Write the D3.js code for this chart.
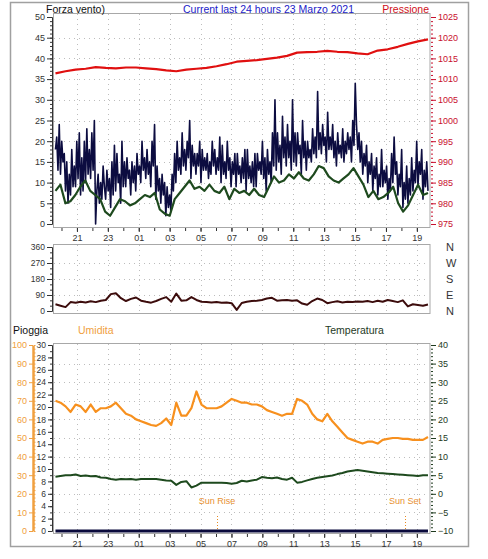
<!DOCTYPE html>
<html><head><meta charset="utf-8">
<script src="https://cdn.jsdelivr.net/npm/d3@7"></script>
<style>body{margin:0;background:#fff}svg{display:block;font-family:"Liberation Sans",Arial,sans-serif}</style>
</head><body><svg id="c" width="488" height="559"></svg>
<script>
// ---- data ----
const hourTicks = [21,23,25,27,29,31,33,35,37,39,41,43];
const hourLabels = ["21","23","01","03","05","07","09","11","13","15","17","19"];
const tStart = 19.61, tEnd = 43.72;
const sunRise = 30.07, sunSet = 42.23;
const windGust = [
  18,21,13,24,12,20,15,17, 8,15,5,12,7,18,9,14, 9,20,11,22,7,16,8,20, 10,23,12,18,11,22,13,25,
  0,8,12,5,10,6,14,9, 6,13,8,11,4,15,7,19, 8,17,10,12,5,20,9,15, 9,16,11,13,7,15,10,14,
  8,17,12,14,10,20,13,16, 11,18,12,15,9,20,14,24, 6,14,8,11,5,12,7,10, 2,9,4,7,3,12,8,17,
  10,20,13,16,12,22,14,18, 13,20,16,25,11,19,14,17, 12,17,14,20,10,18,13,16, 13,17,11,15,12,20,14,18,
  12,16,13,21,10,19,12,15, 11,20,13,16,9,15,12,17, 9,17,12,14,10,16,11,18, 8,18,11,14,10,15,9,17,
  9,17,13,15,12,20,11,16, 8,18,12,15,10,22,14,30, 13,22,15,19,12,26,16,21, 14,24,16,20,13,30,15,22,
  14,22,17,19,12,25,16,20, 13,20,16,18,15,23,17,21, 16,32,18,22,17,24,19,21, 15,27,18,21,18,24,16,20,
  14,22,17,19,16,23,15,20, 17,22,18,21,15,25,19,34, 24,18,22,15,20,12,17,14, 19,10,15,12,17,8,14,11,
  16,7,12,9,18,9,13,10, 14,6,11,8,17,10,21,12, 15,7,12,9,18,4,10,6, 14,5,11,7,16,8,13,10,
  20,9,15,12,18,6,13,9, 15,8];
const windAvg = [8,9.5,5,5.5,7,9,10.5,8,7,6,3,2,4,6,5.5,4.5,5,6,7,6.5,7.5,3.5,2.5,2,6,7.5,9,10.5,8.5,9,
  8,9.5,8,7.5,9,6,8.5,7.5,8,7,8.5,7,6.5,9,11.5,10,10.5,12,11,12.5,11,10.5,12,14,13.5,11.5,10.5,10,11,12,
  13.5,11.5,9.5,6.5,8,6,6.5,7.5,9,5,3,4.5,7,9.5,7,7.5];
const pressure = [1011.4,1011.9,1012.3,1012.5,1012.9,1012.7,1012.6,1012.8,1012.8,1012.6,1012.4,1012.1,1011.9,
  1012.3,1012.5,1012.7,1013.1,1013.6,1014.2,1014.4,1014.6,1014.9,1015.2,1015.6,1016.4,1016.5,1016.6,1016.8,
  1016.6,1016.5,1016.2,1016.0,1016.9,1017.2,1017.8,1018.5,1019.1,1019.6];
const windDir = [38,30,22,50,46,52,48,55,50,58,62,95,100,72,56,68,76,58,52,47,56,68,78,52,98,58,60,78,62,52,
  50,48,50,46,48,44,6,45,52,56,58,62,70,74,58,60,62,58,60,42,35,56,70,62,44,50,55,48,52,50,
  54,52,56,50,58,52,62,56,50,60,26,38,34,30,36];
const humidity = [70,69,67,64,68,67,64,68,64,66,66,67,69,66,63,62,60,59,58,57,56.5,58,60.5,57,69,62,62,66,75,68,
  66,66,66,67,69,71,70,69,69,68,68,67,65,64,63,62,63,63,71,70,68,63,60,59,63,59,56,53,50,49,
  48,47,48,48,47,49,49.5,50,50,49.5,49.5,49,49,49,50.5];
const temperature = [4.6,4.8,5.0,5.0,5.2,4.8,4.9,4.7,4.8,4.4,4.3,4.0,3.8,4.0,3.9,4.0,3.8,4.0,4.0,4.0,4.0,3.8,3.6,3.5,2.4,
  3.2,3.4,1.7,2.2,3.0,3.0,3.0,3.0,3.0,2.9,2.7,2.9,3.5,3.3,3.6,3.8,4.5,4.3,4.2,4.4,4.0,3.8,4.3,3.0,3.2,
  3.6,4.0,4.3,4.5,4.7,4.9,5.3,5.6,6.0,6.2,6.4,6.2,6.0,5.8,5.6,5.5,5.4,5.3,5.2,5.1,5.0,4.9,4.8,5.0,5.0];
const rain = [0,0,0,0,0,0,0,0,0,0,0,0,0,0,0,0,0,0,0,0,0,0,0,0,0];
const dirLabels = ["N","W","S","E","N"];
const dirLabelValues = [360,270,180,90,0];

// ---- drawing ----
const svg = d3.select("#c");
const x = d3.scaleLinear().domain([19.45,43.85]).range([53,430]);
const ySpeed = d3.scaleLinear().domain([0,50]).range([224,17]);
const yPress = d3.scaleLinear().domain([975,1025]).range([224,17]);
const yDir = d3.scaleLinear().domain([0,360]).range([311,247]);
const yRain = d3.scaleLinear().domain([0,30]).range([531,345]);
const yHum = d3.scaleLinear().domain([0,100]).range([531,345]);
const yTemp = d3.scaleLinear().domain([-10,40]).range([531,345]);

const withTime = arr => arr.map((v,i)=>({t: tStart + i*(tEnd-tStart)/(arr.length-1), v}));

// outer frame
svg.append("rect").attr("x",10.5).attr("y",2.5).attr("width",458).attr("height",544)
  .attr("fill","none").attr("stroke","#a0a0a0").attr("stroke-width",1.5);

const panels = [{y0:13,y1:227},{y0:244,y1:313},{y0:343,y1:533}];
panels.forEach(p=>{
  svg.append("rect").attr("x",53.5).attr("y",p.y0+0.5).attr("width",376.5).attr("height",p.y1-p.y0)
    .attr("fill","#fff").attr("stroke","#a8a8a8").attr("stroke-width",1);
});

function grid(hVals, yScale, p){
  const g = svg.append("g").attr("stroke","#bdbdbd").attr("stroke-dasharray","1,4").attr("stroke-width",1);
  hVals.forEach(v=>g.append("line").attr("x1",54).attr("x2",429).attr("y1",Math.round(yScale(v))+0.5).attr("y2",Math.round(yScale(v))+0.5));
  hourTicks.forEach(h=>g.append("line").attr("x1",Math.round(x(h))+0.5).attr("x2",Math.round(x(h))+0.5).attr("y1",p.y0+1).attr("y2",p.y1));
}
grid(d3.range(5,50,5), ySpeed, panels[0]);
grid([90,180,270], yDir, panels[1]);
grid(d3.range(10,100,10), yHum, panels[2]);

function styleAxis(g, color, fontSize){
  g.select(".domain").attr("stroke",color);
  g.selectAll(".tick line").attr("stroke",color);
  g.selectAll(".tick text").attr("fill",color).style("font-size",fontSize+"px").style("font-family","'Liberation Sans',Arial,sans-serif");
}
const fmt = d3.format("d");

// panel 1 axes
let g = svg.append("g").attr("transform","translate(52,0)")
  .call(d3.axisLeft(ySpeed).tickValues(d3.range(0,51,5)).tickSize(5).tickPadding(2).tickSizeOuter(0));
styleAxis(g,"#333",9);
g = svg.append("g").attr("transform","translate(52,0)")
  .call(d3.axisLeft(ySpeed).tickValues(d3.range(0,51,1)).tickSize(2).tickFormat("").tickSizeOuter(0));
styleAxis(g,"#333",9);
g = svg.append("g").attr("transform","translate(431,0)")
  .call(d3.axisRight(yPress).tickValues(d3.range(975,1026,5)).tickFormat(fmt).tickSize(5).tickPadding(2).tickSizeOuter(0));
styleAxis(g,"#c8102e",9); g.select(".domain").remove();
g = svg.append("g").attr("transform","translate(431,0)")
  .call(d3.axisRight(yPress).tickValues(d3.range(975,1026,1)).tickSize(2).tickFormat("").tickSizeOuter(0));
styleAxis(g,"#c8102e",9); g.select(".domain").remove();

function xAxis(y){
  let a = svg.append("g").attr("transform",`translate(0,${y})`)
    .call(d3.axisBottom(x).tickValues(hourTicks).tickFormat((d,i)=>hourLabels[i]).tickSize(4).tickPadding(3).tickSizeOuter(0));
  styleAxis(a,"#333",9); a.select(".domain").remove();
  a = svg.append("g").attr("transform",`translate(0,${y})`)
    .call(d3.axisBottom(x).tickValues(d3.range(20,44,1)).tickSize(3).tickFormat("").tickSizeOuter(0));
  styleAxis(a,"#333",9); a.select(".domain").remove();
}
xAxis(228);
xAxis(534);

// panel 2 axes
g = svg.append("g").attr("transform","translate(52,0)")
  .call(d3.axisLeft(yDir).tickValues([0,90,180,270,360]).tickSize(5).tickPadding(2).tickSizeOuter(0));
styleAxis(g,"#333",8.5);
g = svg.append("g").attr("transform","translate(52,0)")
  .call(d3.axisLeft(yDir).tickValues(d3.range(0,361,30)).tickSize(2).tickFormat("").tickSizeOuter(0));
styleAxis(g,"#333",9);
svg.append("g").selectAll("text").data(dirLabelValues).join("text")
  .attr("x",446).attr("y",d=>yDir(d)+4).text((d,i)=>dirLabels[i])
  .attr("fill","#333").style("font-size","11px");

// panel 3 axes
g = svg.append("g").attr("transform","translate(52,0)")
  .call(d3.axisLeft(yRain).tickValues(d3.range(0,31,2)).tickSize(4).tickPadding(2).tickSizeOuter(0));
styleAxis(g,"#333",8.5);
g = svg.append("g").attr("transform","translate(52,0)")
  .call(d3.axisLeft(yRain).tickValues(d3.range(0,31,1)).tickSize(2).tickFormat("").tickSizeOuter(0));
styleAxis(g,"#333",9);
g = svg.append("g").attr("transform","translate(33,0)")
  .call(d3.axisLeft(yHum).tickValues(d3.range(0,101,10)).tickSize(4).tickPadding(2).tickSizeOuter(0));
styleAxis(g,"#f0a040",9); g.select(".domain").attr("stroke-width",2.5);
g = svg.append("g").attr("transform","translate(34,0)")
  .call(d3.axisRight(yHum).tickValues(d3.range(0,101,2)).tickSize(1.5).tickFormat("").tickSizeOuter(0));
styleAxis(g,"#f0a040",9); g.select(".domain").remove();
g = svg.append("g").attr("transform","translate(431,0)")
  .call(d3.axisRight(yTemp).tickValues(d3.range(-10,41,5)).tickSize(5).tickPadding(2).tickSizeOuter(0));
styleAxis(g,"#1e3a1e",9); g.select(".domain").remove();
g = svg.append("g").attr("transform","translate(431,0)")
  .call(d3.axisRight(yTemp).tickValues(d3.range(-10,41,1)).tickSize(2).tickFormat("").tickSizeOuter(0));
styleAxis(g,"#1e3a1e",9); g.select(".domain").remove();

// lines
function drawLine(data, yScale, color, width){
  svg.append("path").datum(withTime(data)).attr("fill","none").attr("stroke",color)
    .attr("stroke-width",width).attr("stroke-linejoin","round")
    .attr("d", d3.line().x(d=>x(d.t)).y(d=>yScale(d.v)));
}
drawLine(pressure, yPress, "#e01010", 2.2);
drawLine(windGust, ySpeed, "#0c0c40", 1.6);
drawLine(windAvg, ySpeed, "#1e4a1e", 2.2);
drawLine(windDir, yDir, "#3c0c0c", 2);
drawLine(humidity, yHum, "#f7901e", 2.2);
drawLine(temperature, yTemp, "#1e4a1e", 2);
drawLine(rain, yRain, "#0a0a3c", 3);

// sun rise / set
[[sunRise,"Sun Rise"],[sunSet,"Sun Set"]].forEach(([h,lbl])=>{
  svg.append("line").attr("x1",Math.round(x(h))+0.5).attr("x2",Math.round(x(h))+0.5).attr("y1",516).attr("y2",529)
    .attr("stroke","#e88a20").attr("stroke-dasharray","1,2");
  svg.append("text").attr("x",x(h)).attr("y",504).attr("text-anchor","middle").text(lbl)
    .attr("fill","#e89030").style("font-size","9px");
});

// titles
svg.append("text").attr("x",46).attr("y",13).text("Forza vento)").attr("fill","#111").style("font-size","10.5px");
svg.append("text").attr("x",183).attr("y",13).text("Current last 24 hours 23 Marzo 2021").attr("fill","#1a1ac8").style("font-size","10.5px");
svg.append("text").attr("x",429).attr("y",13).attr("text-anchor","end").text("Pressione").attr("fill","#d01020").style("font-size","10.5px");
svg.append("text").attr("x",13).attr("y",334).text("Pioggia").attr("fill","#111").style("font-size","10.5px");
svg.append("text").attr("x",78).attr("y",334).text("Umidita").attr("fill","#f0a040").style("font-size","10.5px");
svg.append("text").attr("x",325).attr("y",334).text("Temperatura").attr("fill","#1e3a1e").style("font-size","10.5px");
</script></body></html>
